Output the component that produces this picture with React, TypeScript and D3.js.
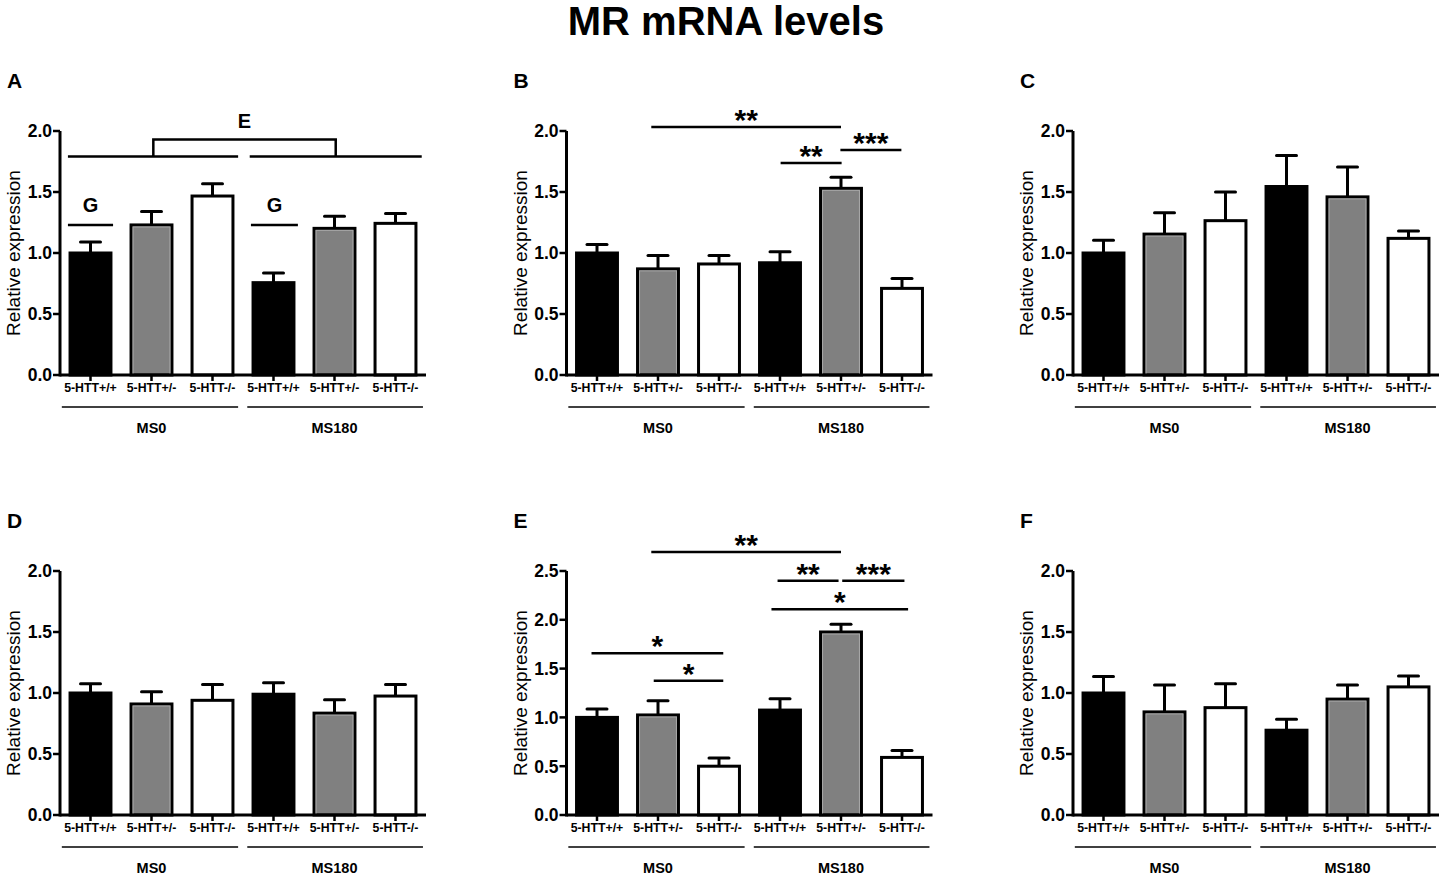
import * as d3 from "d3";

const genotypes = ["5-HTT+/+", "5-HTT+/-", "5-HTT-/-", "5-HTT+/+", "5-HTT+/-", "5-HTT-/-"];
const groups = ["MS0", "MS180"];
const barFills = ["#000000", "#808080", "#ffffff", "#000000", "#808080", "#ffffff"];
const letters = ["A", "B", "C", "D", "E", "F"];
const yMaxes = [2, 2, 2, 2, 2.5, 2];

// means and SEM
const meanA = [1.0, 1.23, 1.467, 0.757, 1.202, 1.243];
const semA = [0.09, 0.11, 0.1, 0.08, 0.1, 0.08];
const meanB = [1.0, 0.87, 0.91, 0.92, 1.53, 0.71];
const semB = [0.07, 0.11, 0.07, 0.09, 0.09, 0.08];
const meanC = [1.0, 1.155, 1.265, 1.545, 1.46, 1.12];
const semC = [0.105, 0.175, 0.235, 0.255, 0.245, 0.06];
const meanD = [1.0, 0.91, 0.94, 0.99, 0.835, 0.975];
const semD = [0.075, 0.1, 0.13, 0.095, 0.11, 0.095];
const meanE = [1.0, 1.025, 0.5, 1.075, 1.875, 0.59];
const semE = [0.085, 0.145, 0.085, 0.115, 0.08, 0.07];
const meanF = [1.0, 0.845, 0.88, 0.695, 0.95, 1.05];
const semF = [0.135, 0.22, 0.195, 0.09, 0.115, 0.09];

type Sig = { from: number; to: number; level: number; text: string };

// significance lines, from/to in band units (0..6)
const sigA: Sig[] = [
  { from: 0.13, to: 0.87, level: 1.23, text: "G" },
  { from: 3.13, to: 3.9, level: 1.23, text: "G" },
];
const sigB: Sig[] = [
  { from: 1.39, to: 4.5, level: 2.033, text: "**" },
  { from: 3.51, to: 4.51, level: 1.738, text: "**" },
  { from: 4.49, to: 5.49, level: 1.844, text: "***" },
];
const sigE: Sig[] = [
  { from: 1.39, to: 4.5, level: 2.695, text: "**" },
  { from: 3.46, to: 4.46, level: 2.4, text: "**" },
  { from: 4.52, to: 5.54, level: 2.4, text: "***" },
  { from: 3.36, to: 5.6, level: 2.107, text: "*" },
  { from: 0.41, to: 2.57, level: 1.657, text: "*" },
  { from: 1.43, to: 2.57, level: 1.376, text: "*" },
];

const means = [meanA, meanB, meanC, meanD, meanE, meanF];
const sems = [semA, semB, semC, semD, semE, semF];
const sigs = [sigA, sigB, [], [], sigE, []];

const FONT = "'Liberation Sans', Arial, sans-serif";
const COL_W = 506.5;
const ROW_H = 440;
const AXIS_X = 60;
const PLOT_W = 366;
const Y_BOTTOM = 375;
const Y_TOP = 131;

const Panel = ({ idx }: { idx: number }) => {
  const ox = (idx % 3) * COL_W;
  const oy = Math.floor(idx / 3) * ROW_H;
  const x0 = ox + AXIS_X;
  const x = d3
    .scaleBand<number>()
    .domain(d3.range(6))
    .range([x0, x0 + PLOT_W])
    .paddingInner(0.28)
    .paddingOuter(0.14);
  const u = d3.scaleLinear().domain([0, 6]).range([x0, x0 + PLOT_W]);
  const y = d3.scaleLinear().domain([0, yMaxes[idx]]).range([oy + Y_BOTTOM, oy + Y_TOP]);
  const ticks = d3.range(0, yMaxes[idx] + 0.01, 0.5);
  const bw = x.bandwidth();

  return (
    <g>
      <text x={ox + 7} y={oy + 88} fontSize={21} fontWeight="bold">
        {letters[idx]}
      </text>
      <text
        transform={`translate(${ox + 20},${(y(0) + y(yMaxes[idx])) / 2}) rotate(-90)`}
        textAnchor="middle"
        fontSize={19}
      >
        Relative expression
      </text>

      {means[idx].map((m, i) => {
        const cx = x(i)! + bw / 2;
        const top = y(m + sems[idx][i]);
        return (
          <g key={i}>
            <line x1={cx} x2={cx} y1={y(m)} y2={top} stroke="#000" strokeWidth={3} />
            <line x1={cx - 10} x2={cx + 10} y1={top} y2={top} stroke="#000" strokeWidth={3} strokeLinecap="round" />
            <rect
              x={x(i)! + 1.5}
              y={y(m)}
              width={bw - 3}
              height={y(0) - y(m)}
              fill={barFills[i]}
              stroke="#000"
              strokeWidth={3}
            />
            {barFills[i] === "#808080" && (
              <rect
                x={x(i)! + 3.5}
                y={y(m) + 2}
                width={bw - 7}
                height={y(0) - y(m) - 2}
                fill="none"
                stroke="#a8a8a8"
                strokeWidth={1}
              />
            )}
          </g>
        );
      })}

      {/* y axis */}
      <line x1={x0} x2={x0} y1={y(0) + 1.5} y2={y(yMaxes[idx])} stroke="#000" strokeWidth={3} />
      {ticks.map((t) => (
        <g key={t}>
          <line x1={x0 - 7} x2={x0} y1={y(t)} y2={y(t)} stroke="#000" strokeWidth={2.5} />
          <text x={x0 - 8} y={y(t)} dy="0.36em" textAnchor="end" fontSize={17.5} fontWeight="bold">
            {d3.format(".1f")(t)}
          </text>
        </g>
      ))}

      {/* x axis */}
      <line x1={x0} x2={x0 + PLOT_W} y1={y(0)} y2={y(0)} stroke="#000" strokeWidth={3} />
      {genotypes.map((g, i) => {
        const cx = x(i)! + bw / 2;
        return (
          <g key={i}>
            <line x1={cx} x2={cx} y1={y(0)} y2={y(0) + 6} stroke="#000" strokeWidth={2.5} />
            <text x={cx} y={y(0) + 17} textAnchor="middle" fontSize={12.3} fontWeight="bold">
              {g}
            </text>
          </g>
        );
      })}

      {groups.map((g, k) => (
        <g key={g}>
          <line
            x1={u(k * 3 + (k === 0 ? 0.03 : 0.07))}
            x2={u(k * 3 + 2.92 + (k === 0 ? 0 : 0.03))}
            y1={y(0) + 32}
            y2={y(0) + 32}
            stroke="#000"
            strokeWidth={1.5}
          />
          <text x={u(k * 3 + 1.5)} y={y(0) + 58} textAnchor="middle" fontSize={14.5} fontWeight="bold">
            {g}
          </text>
        </g>
      ))}

      {sigs[idx].map((s, k) => (
        <g key={k}>
          <line x1={u(s.from)} x2={u(s.to)} y1={y(s.level)} y2={y(s.level)} stroke="#000" strokeWidth={2.5} />
          <text
            x={u((s.from + s.to) / 2)}
            y={s.text === "G" ? y(s.level) - 13 : y(s.level) + 3}
            textAnchor="middle"
            fontSize={s.text === "G" ? 20 : 30}
            fontWeight="bold"
          >
            {s.text}
          </text>
        </g>
      ))}

      {idx === 0 && (
        <g>
          <path
            d={`M${u(0.13)},${y(1.79)}H${u(2.92)}M${u(3.11)},${y(1.79)}H${u(5.93)}M${u(1.53)},${y(1.79)}V${y(1.93)}H${u(4.52)}V${y(1.79)}`}
            fill="none"
            stroke="#000"
            strokeWidth={2.5}
          />
          <text x={u(3.025)} y={y(1.93) - 12} textAnchor="middle" fontSize={20} fontWeight="bold">
            E
          </text>
        </g>
      )}
    </g>
  );
};

export default function App() {
  return (
    <div style={{ position: "absolute", left: 0, top: 0 }}>
      <svg width={1446} height={876} style={{ display: "block", background: "#fff" }} fontFamily={FONT}>
        <text x={726} y={35} textAnchor="middle" fontSize={40} fontWeight="bold">
          MR mRNA levels
        </text>
        {letters.map((_, i) => (
          <Panel key={i} idx={i} />
        ))}
      </svg>
    </div>
  );
}
